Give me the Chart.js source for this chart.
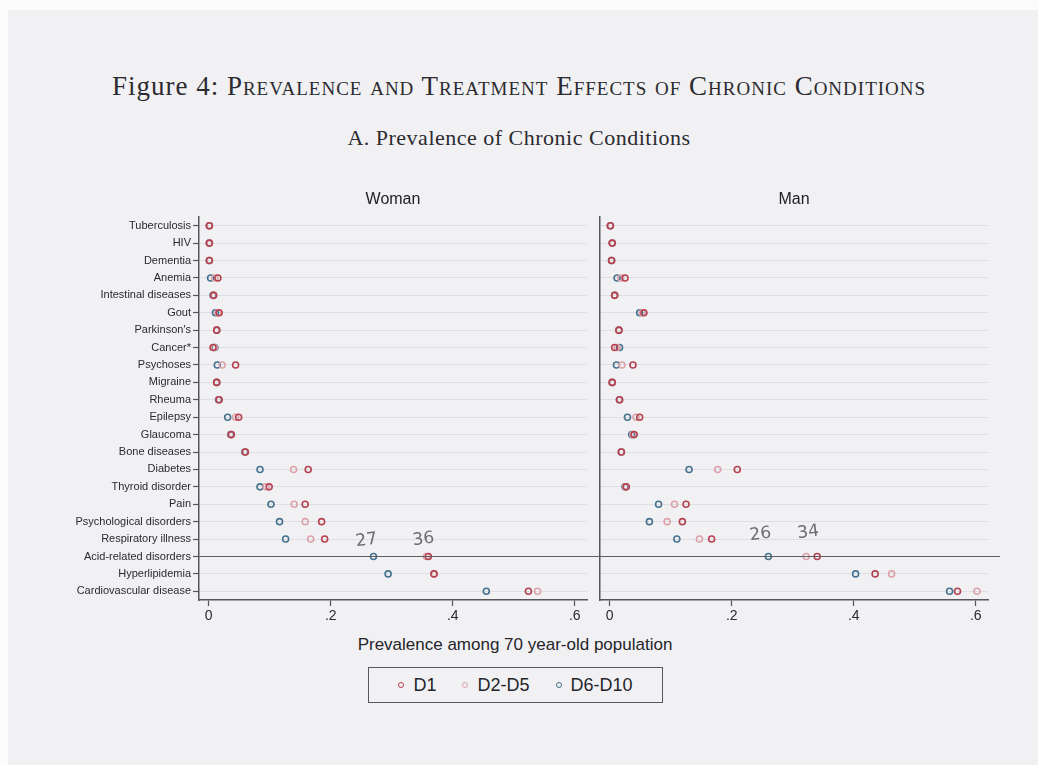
<!DOCTYPE html>
<html>
<head>
<meta charset="utf-8">
<title>Prevalence of Chronic Conditions</title>
<script src="https://cdn.jsdelivr.net/npm/chart.js@4.4.0/dist/chart.umd.min.js"></script>
<style>
  body { margin: 0; width: 1038px; height: 765px; position: relative; overflow: hidden; background: #fbfbfc;
         font-family: 'Liberation Sans Narrow', 'Liberation Sans', Arial, sans-serif; }
  #page { position: absolute; left: 8px; top: 10px; right: 0; bottom: 0; background: #f1f1f4; }
  .head { position: absolute; left: 0; width: 1038px; text-align: center; color: #2b2b30;
          font-family: 'Liberation Serif', 'DejaVu Serif', serif; white-space: nowrap; }
  #fig-title { top: 71px; font-size: 27px; letter-spacing: 1px; }
  #fig-title .sc { font-variant: small-caps; }
  #fig-sub { top: 125px; font-size: 22px; letter-spacing: 0.5px; }
  canvas { position: absolute; top: 180px; }
  #woman { left: 0; }
  #man { left: 593px; }
  #xtitle { position: absolute; left: 0; width: 1030px; top: 635px; text-align: center; font-size: 17px; color: #25252a; }
  #legend { position: absolute; left: 368px; top: 667px; width: 295px; height: 36px; box-sizing: border-box;
            border: 1.5px solid #58585e; display: flex; align-items: center; justify-content: center; gap: 26px;
            font-size: 18px; color: #25252a; }
  #legend .item { display: flex; align-items: center; gap: 9px; }
  #legend .dot { width: 4px; height: 4px; border-radius: 50%; border: 1.5px solid; }
</style>
</head>
<body>
<div id="page"></div>
<div id="fig-title" class="head">Figure 4: <span class="sc">Prevalence and Treatment Effects of Chronic Conditions</span></div>
<div id="fig-sub" class="head">A. Prevalence of Chronic Conditions</div>
<canvas id="woman" width="593" height="450"></canvas>
<canvas id="man" width="445" height="450"></canvas>
<div id="xtitle">Prevalence among 70 year-old population</div>
<div id="legend"></div>
<script>
const categories = ['Tuberculosis', 'HIV', 'Dementia', 'Anemia', 'Intestinal diseases', 'Gout', "Parkinson's",
  'Cancer*', 'Psychoses', 'Migraine', 'Rheuma', 'Epilepsy', 'Glaucoma', 'Bone diseases', 'Diabetes',
  'Thyroid disorder', 'Pain', 'Psychological disorders', 'Respiratory illness', 'Acid-related disorders',
  'Hyperlipidemia', 'Cardiovascular disease'];

const groups = ['D1', 'D2-D5', 'D6-D10'];
const groupColors = ['#b4424f', '#dca2aa', '#45728f'];

// prevalence by income decile group, same order as categories
const womanD1   = [0.001, 0.001, 0.001, 0.015, 0.008, 0.017, 0.013, 0.007, 0.044, 0.013, 0.017,
                   0.049, 0.037, 0.060, 0.163, 0.099, 0.158, 0.185, 0.190, 0.36, 0.369, 0.524];
const womanD2D5 = [0.001, 0.001, 0.001, 0.010, 0.008, 0.015, 0.013, 0.009, 0.022, 0.013, 0.017,
                   0.044, 0.037, 0.060, 0.139, 0.094, 0.140, 0.158, 0.167, 0.357, 0.370, 0.539];
const womanD6   = [0.001, 0.001, 0.001, 0.003, 0.007, 0.011, 0.013, 0.010, 0.014, 0.013, 0.016,
                   0.031, 0.036, 0.059, 0.084, 0.084, 0.102, 0.116, 0.126, 0.27, 0.294, 0.455];

const manD1     = [0.001, 0.004, 0.003, 0.025, 0.008, 0.056, 0.015, 0.008, 0.038, 0.004, 0.016,
                   0.049, 0.040, 0.019, 0.209, 0.027, 0.125, 0.119, 0.167, 0.34, 0.435, 0.570];
const manD2D5   = [0.001, 0.004, 0.003, 0.018, 0.008, 0.053, 0.015, 0.012, 0.020, 0.004, 0.016,
                   0.043, 0.038, 0.019, 0.177, 0.026, 0.106, 0.094, 0.147, 0.322, 0.462, 0.602];
const manD6     = [0.001, 0.004, 0.003, 0.012, 0.008, 0.049, 0.015, 0.016, 0.011, 0.004, 0.016,
                   0.029, 0.036, 0.019, 0.130, 0.025, 0.080, 0.065, 0.110, 0.26, 0.403, 0.557];

const xTicks = [0, 0.2, 0.4, 0.6];
const ruledRow = 'Acid-related disorders';

const narrow = "'Liberation Sans Narrow', 'Liberation Sans', Arial, sans-serif";
const dark = '#55555b';

// legend box under both panels
document.getElementById('legend').innerHTML = groups.map((g, i) =>
  `<span class="item"><span class="dot" style="border-color:${groupColors[i]}"></span>${g}</span>`).join('');

function toPoints(values) {
  return values.map((v, i) => ({ x: v, y: categories[i] }));
}

// panel heading, the pencil rule through one row and the numbers written above it
const panelMarks = {
  id: 'panelMarks',
  afterDatasetsDraw(chart, args, opts) {
    const { ctx, chartArea, scales } = chart;
    ctx.save();
    ctx.fillStyle = '#222226';
    ctx.font = '16px ' + narrow;
    ctx.textAlign = 'center';
    ctx.textBaseline = 'middle';
    ctx.fillText(opts.heading, (chartArea.left + chartArea.right) / 2, 20);

    const row = categories.indexOf(ruledRow);
    const y = scales.y.getPixelForValue(row);
    ctx.strokeStyle = '#5e5e64';
    ctx.lineWidth = 1.2;
    ctx.beginPath();
    ctx.moveTo(opts.ruleFrom === 'axis' ? chartArea.left : 0, y);
    ctx.lineTo(opts.ruleTo === 'edge' ? chart.width : chartArea.right + 12, y);
    ctx.stroke();

    ctx.fillStyle = '#6b6b72';
    ctx.font = '17px "DejaVu Sans", sans-serif';
    opts.notes.forEach(n => {
      const ds = chart.data.datasets[groups.indexOf(n.group)];
      const v = ds.data[row].x;
      const px = scales.x.getPixelForValue(v) + n.dx;
      ctx.save();
      ctx.translate(px, y + n.dy);
      ctx.rotate(-0.12);
      ctx.fillText(String(Math.round(v * 100)), 0, 0);
      ctx.restore();
    });
    ctx.restore();
  }
};

function makePanel(id, series, heading, withLabels, pad, marks) {
  return new Chart(document.getElementById(id), {
    type: 'scatter',
    data: {
      datasets: series.map((vals, i) => ({
        label: groups[i],
        data: toPoints(vals),
        borderColor: groupColors[i],
        backgroundColor: 'rgba(0,0,0,0)',
        pointRadius: 3,
        pointBorderWidth: 1.6,
        pointHoverRadius: 3
      }))
    },
    options: {
      responsive: false,
      animation: false,
      events: [],
      layout: { padding: pad },
      plugins: {
        legend: { display: false },
        tooltip: { enabled: false },
        panelMarks: Object.assign({ heading }, marks)
      },
      scales: {
        x: {
          type: 'linear',
          min: -0.016,
          max: 0.62,
          afterBuildTicks: s => { s.ticks = xTicks.map(v => ({ value: v })); },
          afterFit: s => { s.height = 30; },
          ticks: {
            color: '#2a2a2e',
            font: { size: 14, family: narrow },
            padding: 2,
            maxRotation: 0,
            callback: v => v === 0 ? '0' : String(v).replace('0.', '.')
          },
          grid: { drawOnChartArea: false, tickLength: 6, tickColor: dark, tickWidth: 1.2 },
          border: { color: dark, width: 1.5 }
        },
        y: {
          type: 'category',
          labels: categories,
          offset: true,
          afterFit: s => { s.width = withLabels ? 199 : 7; },
          ticks: {
            display: withLabels,
            color: '#2a2a2e',
            font: { size: 11, family: narrow },
            padding: 2,
            autoSkip: false
          },
          grid: {
            offset: false,
            color: 'rgba(185,185,195,0.35)',
            lineWidth: 1,
            drawTicks: withLabels,
            tickLength: 6,
            tickColor: dark,
            tickWidth: 1.2
          },
          border: { color: dark, width: 1.5 }
        }
      }
    },
    plugins: [panelMarks]
  });
}

makePanel('woman', [womanD1, womanD2D5, womanD6], 'Woman', true,
  { top: 37, right: 6, left: 0, bottom: 0 },
  { ruleFrom: 'axis', ruleTo: 'edge', notes: [{ group: 'D6-D10', dx: -7, dy: -16 }, { group: 'D1', dx: -5, dy: -17 }] });

makePanel('man', [manD1, manD2D5, manD6], 'Man', false,
  { top: 37, right: 50, left: 0, bottom: 0 },
  { ruleFrom: 'edge', ruleTo: 'end', notes: [{ group: 'D6-D10', dx: -8, dy: -22 }, { group: 'D1', dx: -9, dy: -24 }] });
</script>
</body>
</html>
